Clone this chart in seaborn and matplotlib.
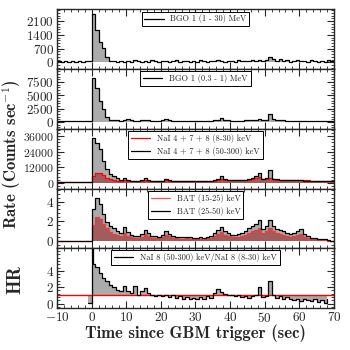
import numpy as np
import pandas as pd
import matplotlib
matplotlib.use("Agg")
import matplotlib.pyplot as plt
from matplotlib.ticker import AutoMinorLocator, MultipleLocator
import seaborn as sns

# ---------------- data ----------------
time = list(range(-10, 71))  # bin left edges (s); last value repeats to close the step

bgo_hi = [60, 20, 80, 40, 90, 30, 70, 10, 50, 80,
          2450, 1650, 1050, 720, 260, 90, 60, 40, 90, 40,
          70, 30, 100, 50, 20, 80, 40, 110, 60, 30,
          90, 50, 20, 70, 110, 40, 60, 90, 30, 70,
          40, 100, 60, 20, 80, 50, 110, 70, 30, 90,
          60, 40, 120, 80, 50, 90, 110, 70, 130, 90,
          120, 280, 150, 80, 150, 60, 100, 40, 90, 120,
          50, 80, 30, 100, 60, 20, 90, 40, 110, 70, 70]

bgo_lo = [150, 100, 180, 120, 90, 160, 110, 140, 100, 170,
          8300, 6300, 3900, 2400, 900, 450, 320, 280, 250, 450,
          550, 300, 260, 230, 280, 400, 350, 250, 220, 260,
          300, 480, 350, 240, 210, 250, 230, 200, 220, 190,
          210, 230, 200, 240, 220, 300, 450, 650, 400, 280,
          250, 230, 260, 240, 280, 300, 350, 450, 600, 350,
          400, 1500, 600, 350, 300, 280, 250, 230, 260, 220,
          200, 230, 210, 190, 220, 180, 200, 170, 190, 160, 160]

nai_hi = [400, 350, 450, 380, 420, 360, 400, 390, 430, 410,
          34300, 31000, 26000, 17000, 10700, 6900, 5000, 3500, 2200, 3300,
          2200, 1700, 1500, 1500, 2000, 3700, 2300, 1700, 1500, 1500,
          1700, 2700, 2100, 1600, 1500, 1400, 1450, 1500, 1400, 1400,
          1450, 1500, 1600, 1600, 1700, 2000, 2800, 5000, 3000, 2200,
          2000, 1900, 2000, 2100, 2200, 2700, 3500, 5500, 7700, 3200,
          4000, 9900, 3200, 2600, 2300, 2200, 2400, 2000, 1800, 2100,
          1800, 1700, 1600, 1500, 1500, 1400, 1400, 1300, 1300, 1200, 1200]

nai_lo = [300, 250, 320, 280, 300, 270, 310, 290, 300, 280,
          5500, 7700, 7500, 5700, 3700, 2700, 2200, 1700, 1500, 1900,
          1600, 1400, 1300, 1300, 1600, 2200, 1700, 1400, 1300, 1300,
          1500, 1900, 1600, 1400, 1300, 1300, 1300, 1350, 1300, 1300,
          1350, 1400, 1450, 1500, 1550, 1700, 2000, 2600, 2100, 1900,
          1800, 1800, 1850, 1900, 2000, 2300, 2700, 3300, 4500, 2800,
          2800, 3700, 2600, 2300, 2200, 2100, 2200, 2000, 1900, 2000,
          1900, 1800, 1800, 1700, 1700, 1600, 1600, 1500, 1500, 1500, 1500]

bat_hi = [0.05, 0.0, 0.08, 0.02, 0.04, 0.0, 0.06, 0.03, 0.05, 0.02,
          3.2, 4.4, 3.8, 2.7, 1.9, 1.55, 1.3, 1.05, 0.85, 1.4,
          0.9, 0.65, 0.55, 0.5, 0.7, 1.1, 0.8, 0.55, 0.5, 0.45,
          0.6, 1.0, 0.75, 0.5, 0.45, 0.4, 0.4, 0.45, 0.4, 0.35,
          0.35, 0.4, 0.35, 0.45, 0.5, 0.85, 1.1, 1.4, 1.0, 0.8,
          0.6, 0.65, 0.7, 0.85, 1.0, 1.3, 1.55, 1.7, 2.1, 1.2,
          1.5, 2.1, 1.55, 1.2, 1.1, 1.0, 0.85, 0.7, 0.8, 1.0,
          1.2, 0.7, 0.55, 0.35, 0.3, 0.25, 0.2, 0.2, 0.1, 0.0, 0.0]

bat_lo = [0.03, 0.0, 0.05, 0.01, 0.02, 0.0, 0.04, 0.02, 0.03, 0.01,
          1.6, 2.4, 2.2, 1.7, 1.3, 0.9, 0.75, 0.6, 0.5, 0.85,
          0.55, 0.4, 0.35, 0.3, 0.45, 0.7, 0.5, 0.35, 0.3, 0.3,
          0.4, 0.65, 0.5, 0.35, 0.3, 0.28, 0.28, 0.3, 0.25, 0.25,
          0.25, 0.28, 0.25, 0.3, 0.35, 0.55, 0.7, 0.9, 0.65, 0.5,
          0.4, 0.4, 0.45, 0.55, 0.65, 0.85, 1.0, 1.1, 1.35, 0.8,
          1.0, 1.35, 1.0, 0.8, 0.7, 0.65, 0.55, 0.45, 0.5, 0.65,
          0.75, 0.45, 0.35, 0.22, 0.2, 0.15, 0.12, 0.12, 0.06, 0.0, 0.0]

hr_time = [-1, 0, 0.3] + list(range(1, 69))
hr = [0.1, 7.5, 4.8,
      4.5, 3.7, 3.1, 2.7, 2.3, 2.0, 1.7, 1.5, 2.1, 1.5,
      1.3, 2.1, 1.0, 1.5, 1.9, 1.3, 1.0, 0.9, 1.1, 0.9,
      1.0, 0.8, 1.0, 0.7, 0.9, 0.6, 0.8, 0.5, 0.7, 0.5,
      0.8, 0.6, 0.9, 0.7, 1.3, 1.8, 1.4, 1.2, 1.0, 1.1,
      0.9, 1.0, 0.8, 0.9, 0.7, 0.9, 1.0, 2.0, 0.8, 0.9,
      2.8, 1.0, 0.7, 0.9, 0.6, 0.8, 0.5, 0.4, 0.6, 0.3,
      0.5, 0.4, 0.3, 0.5, 0.2, 0.4, 0.1, 0.5]

lab_bgo_hi = "BGO 1 (1 - 30) MeV"
lab_bgo_lo = "BGO 1 (0.3 - 1) MeV"
lab_nai_lo = "NaI 4 + 7 + 8 (8-30) keV"
lab_nai_hi = "NaI 4 + 7 + 8 (50-300) keV"
lab_bat_lo = "BAT (15-25) keV"
lab_bat_hi = "BAT (25-50) keV"
lab_hr = "NaI 8 (50-300) keV/NaI 8 (8-30) keV"

# ---------------- style ----------------
sns.set_style("ticks")
plt.rcParams.update({
    "font.family": ["cmr10", "DejaVu Serif"],
    "mathtext.fontset": "cm",
    "axes.formatter.use_mathtext": True,
    "axes.unicode_minus": True,
    "xtick.direction": "in",
    "ytick.direction": "in",
    "xtick.top": True,
    "ytick.right": True,
    "font.size": 10,
})

GREY = "#ababab"
REDFILL = "#a35c5c"

fig, axes = plt.subplots(5, 1, figsize=(3.5, 3.5), dpi=100, sharex=True)
fig.subplots_adjust(left=0.163, right=0.954, top=0.973, bottom=0.12, hspace=0)

t = np.array(time, dtype=float)


def curve(ax, x, y, color, label, lw=0.9, alpha=1.0):
    df = pd.DataFrame({"t": x, "v": y})
    sns.lineplot(data=df, x="t", y="v", ax=ax, color=color, lw=lw,
                 drawstyle="steps-post", label=label, alpha=alpha,
                 estimator=None, sort=False)


def style_legend(ax):
    leg = ax.legend(loc="upper center", fontsize=6, frameon=True,
                    fancybox=False, edgecolor="black", framealpha=1,
                    borderaxespad=0.25, handlelength=2.3, borderpad=0.35,
                    labelspacing=0.5)
    leg.get_frame().set_linewidth(0.7)


# panel 1
ax = axes[0]
ax.fill_between(t, bgo_hi, 0, step="post", color=GREY, lw=0)
curve(ax, t, bgo_hi, "black", lab_bgo_hi)
ax.set_ylim(-350, 2700)
ax.set_yticks([0, 700, 1400, 2100])
style_legend(ax)

# panel 2
ax = axes[1]
ax.fill_between(t, bgo_lo, 0, step="post", color=GREY, lw=0)
curve(ax, t, bgo_lo, "black", lab_bgo_lo)
ax.set_ylim(-1300, 9900)
ax.set_yticks([0, 2500, 5000, 7500])
style_legend(ax)

# panel 3
ax = axes[2]
ax.fill_between(t, nai_hi, 0, step="post", color=GREY, lw=0)
ax.fill_between(t, nai_lo, 0, step="post", color=REDFILL, lw=0)
curve(ax, t, nai_lo, "red", lab_nai_lo)
curve(ax, t, nai_hi, "black", lab_nai_hi)
ax.set_ylim(-4500, 41700)
ax.set_yticks([0, 12000, 24000, 36000])
style_legend(ax)

# panel 4
ax = axes[3]
ax.fill_between(t, bat_hi, 0, step="post", color=GREY, lw=0)
ax.fill_between(t, bat_lo, 0, step="post", color=REDFILL, lw=0)
curve(ax, t, bat_lo, "#ff3333", lab_bat_lo, alpha=0.85)
curve(ax, t, bat_hi, "black", lab_bat_hi)
ax.set_ylim(-0.7, 5.3)
ax.set_yticks([0, 2, 4])
style_legend(ax)

# panel 5
ax = axes[4]
ht = np.array(hr_time, dtype=float)
ax.fill_between(ht, hr, 1, step="post", color=GREY, lw=0)
ax.axhline(1, color="red", lw=1.0)
curve(ax, ht, hr, "black", lab_hr)
ax.set_ylim(-0.55, 6.75)
ax.set_yticks([0, 2, 4])
style_legend(ax)

for ax in axes:
    ax.set_xlim(-10, 70)
    ax.set_ylabel("")
    ax.set_xlabel("")
    ax.xaxis.set_major_locator(MultipleLocator(10))
    ax.xaxis.set_minor_locator(MultipleLocator(2))
    ax.yaxis.set_minor_locator(AutoMinorLocator(5))
    ax.tick_params(which="major", length=5, width=0.8, labelsize=9.5, pad=2)
    ax.tick_params(which="minor", length=2.5, width=0.6)
    ax.tick_params(axis="x", which="both", top=True, bottom=True)
    ax.tick_params(axis="y", which="both", left=True, right=True)
    for s in ax.spines.values():
        s.set_linewidth(1.0)

axes[2].tick_params(axis="y", labelsize=8.5)

axes[4].set_xlabel("Time since GBM trigger (sec)", family="cmb10", fontsize=12, labelpad=0)
fig.text(0.033, 0.56, "Rate (Counts sec$^{-1}$)", rotation=90, ha="center",
         va="center", family="cmb10", fontsize=12)
fig.text(0.045, 0.2, "HR", rotation=90, ha="center", va="center",
         family="cmb10", fontsize=13.5)

fig.savefig("out.png", dpi=100)
